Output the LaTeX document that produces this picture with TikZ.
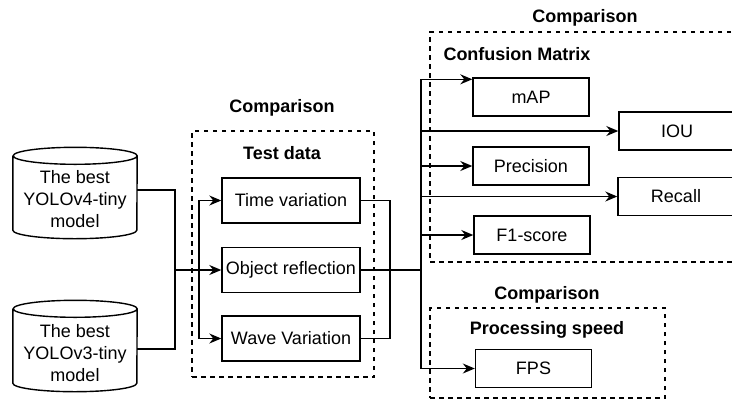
\documentclass[tikz,border=0pt]{standalone}
\usepackage{fontspec}
\setmainfont{Liberation Sans}
\usetikzlibrary{arrows.meta}
\begin{document}
\begin{tikzpicture}[x=1pt,y=-1pt,
  every node/.style={font=\fontsize{18}{22}\selectfont, inner sep=0pt},
  wire/.style={line width=1.4pt},
  arr/.style={wire, -{Stealth[length=12pt,width=10pt,inset=4pt]}},
  stepbox/.style={draw, line width=1.4pt, minimum width=138pt, minimum height=45pt},
  metric/.style={draw, line width=1.4pt, minimum width=116pt, minimum height=38pt},
  group/.style={draw, line width=1.1pt, dash pattern=on 4.5pt off 4.5pt},
  heading/.style={font=\fontsize{18}{22}\selectfont\bfseries},
  cylbody/.style={minimum width=124pt, minimum height=91pt},
  cyltext/.style={align=center}
]
\useasboundingbox (0,0) rectangle (732,400);
\clip (0,0) rectangle (732,400);

% dashed grouping frames
\node[group, minimum width=182pt, minimum height=246pt] (gTest) at (283,254) {};
\node[group, minimum width=310pt, minimum height=230pt] (gConf) at (585,147) {};
\node[group, minimum width=235pt, minimum height=90pt] (gSpeed) at (547.5,353) {};

% frame headings
\node[heading] (hTestCmp) at (282,108) {Comparison};
\node[heading] (hTest) at (282,153) {Test data};
\node[heading] (hConfCmp) at (585,18) {Comparison};
\node[heading] (hConf) at (517,54) {Confusion Matrix};
\node[heading] (hSpeedCmp) at (547,295) {Comparison};
\node[heading] (hSpeed) at (547,330) {Processing speed};

% model databases
\node[cylbody] (cylA) at (75,193) {};
\node[cylbody] (cylB) at (75,346) {};
\foreach \c in {cylA,cylB}{
  \draw[wire]
    ([yshift=-8.5pt]\c.north west) -- ([yshift=8.5pt]\c.south west)
    arc[start angle=180, end angle=360, x radius=62pt, y radius=8.5pt]
    -- ([yshift=-8.5pt]\c.north east)
    arc[start angle=0, end angle=180, x radius=62pt, y radius=8.5pt]
    arc[start angle=180, end angle=360, x radius=62pt, y radius=8.5pt];
}
\node[cyltext] (cylAtext) at ([yshift=-6pt]cylA.center) {The best\\YOLOv4-tiny\\model};
\node[cyltext] (cylBtext) at ([yshift=-7pt]cylB.center) {The best\\YOLOv3-tiny\\model};

% test data cases
\node[stepbox] (tTime) at (291,200.5) {Time variation};
\node[stepbox] (tObj) at (291,270) {Object reflection};
\node[stepbox] (tWave) at (291,338.5) {Wave Variation};

% metrics
\node[metric] (mAP) at (531,97) {mAP};
\node[metric] (iou) at (677,131) {IOU};
\node[metric] (prec) at (531,166) {Precision};
\node[metric] (rec) at (676,196.5) {Recall};
\node[metric] (f1) at (532,235) {F1-score};
\node[metric] (fps) at (533.5,368.5) {FPS};

% junction points
\coordinate (jL) at (175,270);
\coordinate (jL2) at (199,270);
\coordinate (jM) at (390,270);
\coordinate (jR) at (421,270);

% models into test data
\draw[wire] ([yshift=3pt]cylA.east) -| (jL);
\draw[wire] ([yshift=-3pt]cylB.east) -| (jL);
\draw[arr] (jL) -- (tObj.west);
\draw[arr] (jL2) |- (tTime.west);
\draw[arr] (jL2) |- (tWave.west);

% test data into the metrics bus
\draw[wire] (tTime.east) -| (jM);
\draw[wire] (tWave.east) -| (jM);
\draw[wire] (tObj.east) -- (jR);

% bus to each metric
\draw[arr] (jR) |- ([yshift=-2pt]mAP.north west);
\draw[arr] (jR) |- (iou.west);
\draw[arr] (jR) |- (prec.west);
\draw[arr] (jR) |- (rec.west);
\draw[arr] (jR) |- (f1.west);
\draw[arr] (jR) |- (fps.west);
\end{tikzpicture}
\end{document}
